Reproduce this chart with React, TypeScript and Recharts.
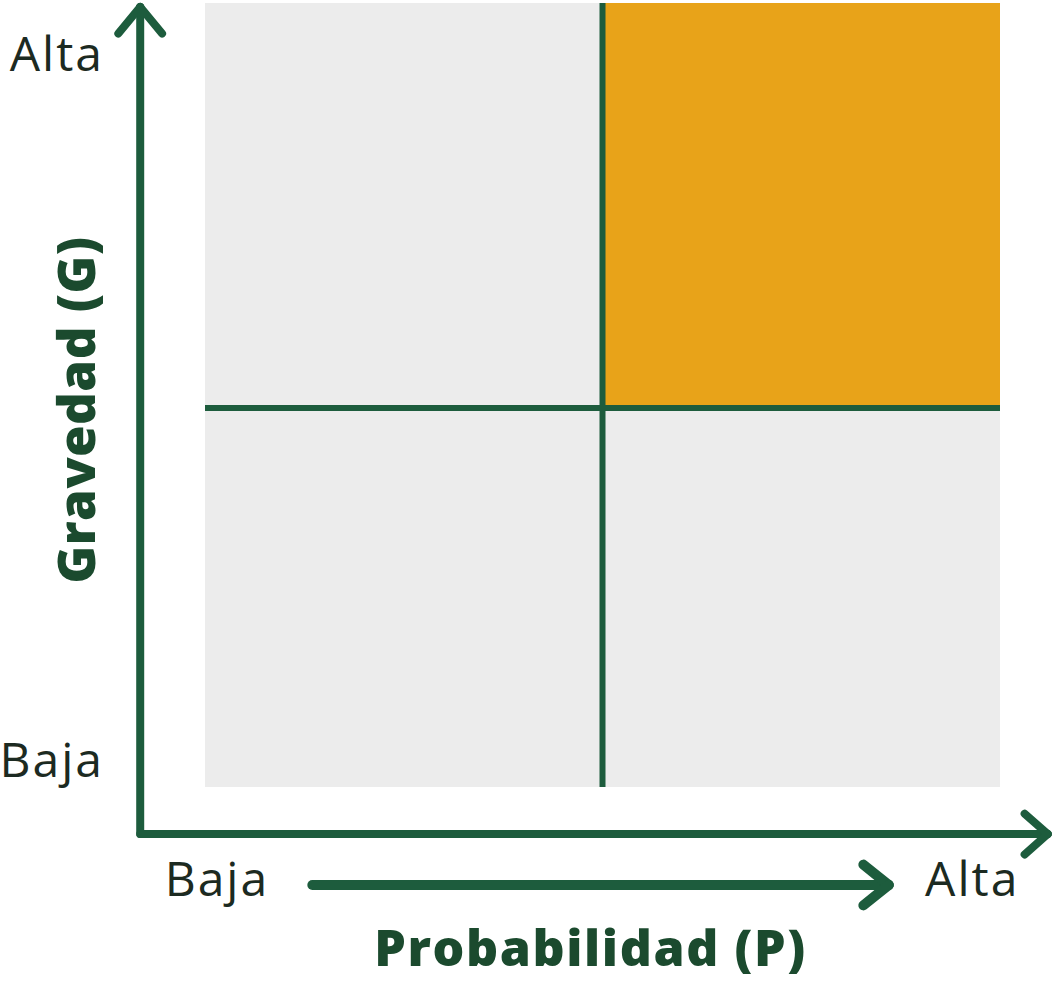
import React from "react";
import {
  ComposedChart,
  XAxis,
  YAxis,
  ReferenceArea,
  ReferenceLine,
  Label,
} from "recharts";

// ---- data ----
const levels = ["Baja", "Alta"]; // low / high levels on each axis
const probSplit = 1.0; // boundary between low/high probability
const gravSplit = 0.967; // boundary between low/high gravity
const xTickValues = [0.03, 1.93];
const xTickLabels = ["Baja", "Alta"];
const yTickValues = [0.07, 1.87];
const yTickLabels = ["Baja", "Alta"];
const xTitle = "Probabilidad (P)";
const yTitle = "Gravedad (G)";
// quadrants: [probIndex, gravIndex, isCritical]
const quadrantProb = [0, 1, 0, 1];
const quadrantGrav = [0, 0, 1, 1];
const quadrantCritical = [false, false, false, true];

// ---- styles ----
const GREEN = "#1d5c3d";
const TEXT = "#1c2a21";
const TITLE = "#1b4a2e";
const GREY = "#ececec";
const ORANGE = "#e8a319";
const FONT = "'Open Sans', 'DejaVu Sans', sans-serif";

const W = 1056;
const H = 983;

const XTick = (props: any) => {
  const { x, y, payload } = props;
  const idx = xTickValues.indexOf(payload.value);
  return (
    <text x={x} y={y} dy="0.355em" textAnchor="middle" fill={TEXT} fontSize={48} letterSpacing={2} fontFamily={FONT}>
      {xTickLabels[idx]}
    </text>
  );
};

const YTick = (props: any) => {
  const { x, y, payload } = props;
  const idx = yTickValues.indexOf(payload.value);
  return (
    <text x={x} y={y} dy="0.355em" textAnchor="end" fill={TEXT} fontSize={48} letterSpacing={2} fontFamily={FONT}>
      {yTickLabels[idx]}
    </text>
  );
};

const XTitle = (props: any) => {
  const vb = props.viewBox || {};
  const cx = vb.x + vb.width / 2 - 12;
  const cy = vb.y + 161;
  return (
    <text x={cx} y={cy} dy="0.355em" textAnchor="middle" fill={TITLE} fontSize={50} fontWeight={800} letterSpacing={1.6} fontFamily={FONT}>
      {xTitle}
    </text>
  );
};

const YTitle = (props: any) => {
  const vb = props.viewBox || {};
  const cx = vb.x + 77;
  const cy = vb.y + vb.height / 2 + 15;
  return (
    <text
      x={cx}
      y={cy}
      dy="0.355em"
      textAnchor="middle"
      fill={TITLE}
      fontSize={51}
      fontWeight={800}
      letterSpacing={0.5}
      fontFamily={FONT}
      transform={`rotate(-90 ${cx} ${cy})`}
    >
      {yTitle}
    </text>
  );
};

const seg = (a: [number, number], b: [number, number], w: number, key: string) => (
  <ReferenceLine
    key={key}
    segment={[{ x: a[0], y: a[1] }, { x: b[0], y: b[1] }]}
    stroke={GREEN}
    strokeWidth={w}
    strokeLinecap="round"
    ifOverflow="visible"
  />
);

export default function App() {
  const n = levels.length;
  const xb = [0, probSplit, n];
  const yb = [0, gravSplit, n];
  // axis arrows expressed in data units (domain 0..n)
  const ax = -0.163;
  const ay = -0.12;
  const yTop = 1.99;
  const xRight = 2.12;
  const midY = -0.25;
  const midX0 = 0.27;
  const midX1 = 1.72;
  const hx = 0.055;
  const hy = 0.068;
  const hxL = 0.058;
  const hyW = 0.052;

  return (
    <div style={{ position: "absolute", left: 0, top: 0, width: W, height: H, background: "#fff" }}>
      <ComposedChart width={W} height={H} margin={{ top: 3, right: 56, bottom: 0, left: 0 }}>
        <XAxis
          type="number"
          dataKey="x"
          domain={[0, n]}
          ticks={xTickValues}
          tick={<XTick />}
          tickLine={false}
          axisLine={false}
          tickSize={0}
          tickMargin={92}
          height={196}
          interval={0}
          allowDataOverflow
        >
          <Label content={<XTitle />} />
        </XAxis>
        <YAxis
          type="number"
          dataKey="y"
          domain={[0, n]}
          ticks={yTickValues}
          tick={<YTick />}
          tickLine={false}
          axisLine={false}
          tickSize={0}
          tickMargin={101}
          width={205}
          interval={0}
          allowDataOverflow
        >
          <Label content={<YTitle />} />
        </YAxis>

        {quadrantProb.map((p, i) => (
          <ReferenceArea
            key={`q${i}`}
            x1={xb[p]}
            x2={xb[p + 1]}
            y1={yb[quadrantGrav[i]]}
            y2={yb[quadrantGrav[i] + 1]}
            fill={quadrantCritical[i] ? ORANGE : GREY}
            fillOpacity={1}
            stroke="none"
            ifOverflow="visible"
          />
        ))}

        <ReferenceLine
          segment={[{ x: probSplit, y: 0 }, { x: probSplit, y: n }]}
          stroke={GREEN}
          strokeWidth={6}
          ifOverflow="visible"
        />
        <ReferenceLine
          segment={[{ x: 0, y: gravSplit }, { x: n, y: gravSplit }]}
          stroke={GREEN}
          strokeWidth={6}
          ifOverflow="visible"
        />

        {/* y-axis arrow */}
        {seg([ax, ay], [ax, yTop], 8, "ya")}
        {seg([ax - hx, yTop - hy], [ax, yTop], 8, "yh1")}
        {seg([ax + hx, yTop - hy], [ax, yTop], 8, "yh2")}
        {/* x-axis arrow */}
        {seg([ax, ay], [xRight, ay], 8, "xa")}
        {seg([xRight - hxL, ay + hyW], [xRight, ay], 8, "xh1")}
        {seg([xRight - hxL, ay - hyW], [xRight, ay], 8, "xh2")}
        {/* inner probability arrow */}
        {seg([midX0, midY], [midX1, midY], 10, "ma")}
        {seg([midX1 - hxL * 1.1, midY + hyW], [midX1, midY], 10, "mh1")}
        {seg([midX1 - hxL * 1.1, midY - hyW], [midX1, midY], 10, "mh2")}
      </ComposedChart>
    </div>
  );
}
